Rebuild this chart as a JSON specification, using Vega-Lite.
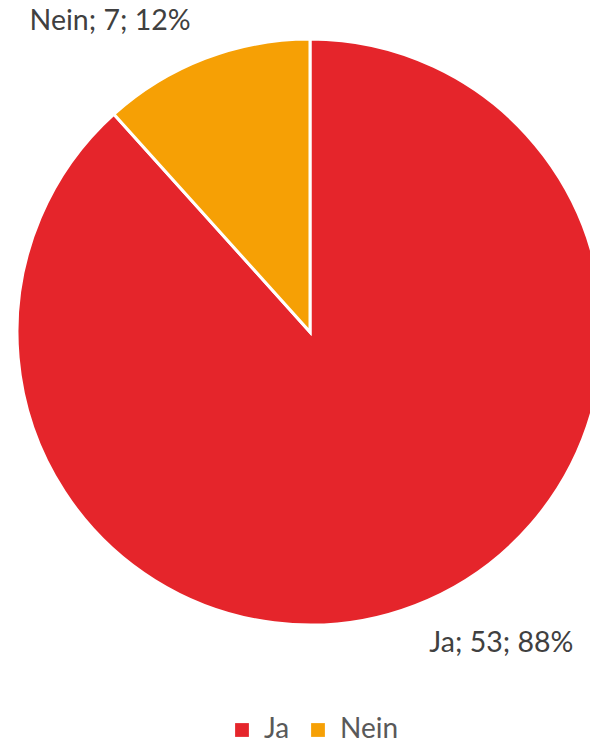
{
  "$schema": "https://vega.github.io/schema/vega-lite/v6.json",
  "width": 620,
  "height": 664,
  "autosize": "none",
  "padding": {"left": 0, "top": 0, "right": 0, "bottom": 81},
  "background": "white",
  "config": {"view": {"stroke": null}, "font": "Lato"},
  "data": {"values": [
    {"cat": "Ja", "n": 53, "label": "Ja; 53; 88%"},
    {"cat": "Nein", "n": 7, "label": "Nein; 7; 12%"}
  ]},
  "encoding": {
    "theta": {"field": "n", "type": "quantitative", "stack": true},
    "order": {"field": "cat", "sort": "ascending"}
  },
  "layer": [
    {
      "mark": {"type": "arc", "outerRadius": 293, "stroke": "white", "strokeWidth": 3},
      "encoding": {
        "color": {
          "field": "cat", "type": "nominal",
          "scale": {"domain": ["Ja", "Nein"], "range": ["#E5252B", "#F6A005"]},
          "legend": {
            "title": null, "orient": "none", "direction": "horizontal",
            "legendX": 228, "legendY": 716,
            "symbolType": "square", "symbolSize": 190, "symbolStrokeWidth": 0,
            "labelFontSize": 28, "labelColor": "#595959", "labelFont": "Lato",
            "columnPadding": 14, "symbolOffset": 0, "labelOffset": 8
          }
        }
      }
    },
    {
      "mark": {"type": "text", "radius": 333, "align": "right", "baseline": "middle", "fontSize": 28.5, "color": "#404040"},
      "encoding": {
        "text": {"condition": {"test": "datum.cat === 'Nein'", "field": "label"}, "value": ""}
      }
    },
    {
      "mark": {"type": "text", "radius": 333, "align": "left", "baseline": "middle", "fontSize": 28.5, "color": "#404040"},
      "encoding": {
        "text": {"condition": {"test": "datum.cat === 'Ja'", "field": "label"}, "value": ""}
      }
    }
  ]
}
